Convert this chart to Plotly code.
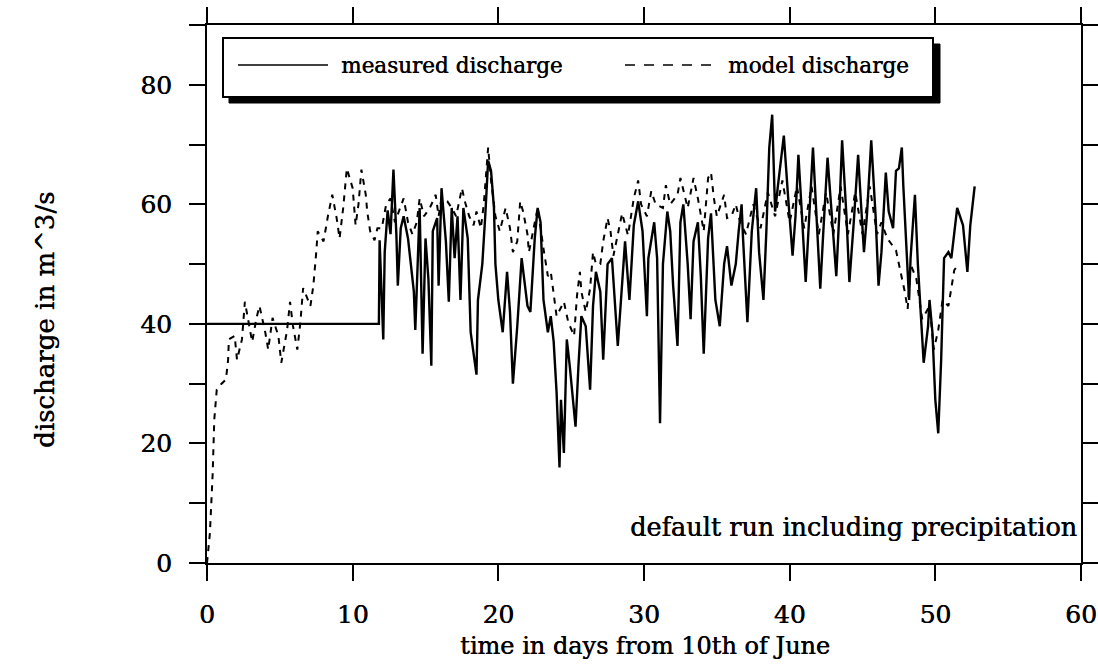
import plotly.graph_objects as go

# ---------------- data ----------------
measured_t = [0, 11.8, 11.85, 12.1, 12.2, 12.4, 12.6, 12.8, 13.0, 13.1, 13.3, 13.5, 13.8, 14.0, 14.2,
              14.3, 14.5, 14.6, 14.8, 15.0, 15.2, 15.4, 15.5, 15.8, 15.9, 16.1, 16.4, 16.6, 16.8, 17.0,
              17.2, 17.4, 17.6, 17.9, 18.1, 18.3, 18.5, 18.6, 18.9, 19.1, 19.3, 19.5, 19.7, 19.8, 20.0,
              20.3, 20.6, 20.8, 21.0, 21.3, 21.6, 22.0, 22.2, 22.5, 22.7, 22.9, 23.1, 23.4, 23.6, 23.8,
              24.0, 24.2, 24.3, 24.5, 24.7, 24.9, 25.3, 25.5, 25.7, 26.0, 26.3, 26.5, 26.7, 27.0, 27.2,
              27.5, 27.8, 28.2, 28.5, 28.7, 29.0, 29.3, 29.6, 29.9, 30.2, 30.3, 30.7, 30.9, 31.1, 31.3,
              31.6, 31.8, 32.0, 32.3, 32.5, 32.7, 33.0, 33.2, 33.4, 33.7, 33.9, 34.1, 34.4, 34.6, 34.9,
              35.2, 35.5, 35.7, 36.0, 36.3, 36.5, 36.7, 36.8, 37.1, 37.4, 37.7, 37.9, 38.2, 38.4, 38.6,
              38.8, 39.0, 39.2, 39.6, 39.9, 40.2, 40.4, 40.6, 40.8, 41.1, 41.3, 41.6, 41.8, 42.1, 42.3,
              42.6, 42.9, 43.2, 43.4, 43.6, 43.9, 44.1, 44.4, 44.7, 44.9, 45.1, 45.3, 45.6, 45.9, 46.1,
              46.3, 46.6, 46.8, 47.1, 47.3, 47.5, 47.7, 47.8, 48.1, 48.2, 48.3, 48.6, 48.8, 49.0, 49.2,
              49.5, 49.6, 49.8, 50.0, 50.2, 50.4, 50.6, 50.9, 51.1, 51.3, 51.5, 51.9, 52.2, 52.4, 52.7]
measured_q = [40, 40, 54, 37.4, 52, 59, 55, 65.8, 55, 46.4, 56, 58, 54.3, 50, 45.4,
              39, 54.3, 59.4, 35, 54.3, 47.5, 33, 55.5, 57.7, 46.4, 62.7, 53.8, 43.7, 59.4, 51,
              58, 44, 59.4, 54.3, 38.6, 35, 31.5, 44, 50, 58, 67.3, 65.6, 59.4, 50, 44,
              38.6, 48.7, 42, 30, 39.6, 51, 43, 42, 54.3, 59.4, 57, 44, 38.6, 41.3, 37,
              28.5, 16, 27.3, 18.4, 37.4, 33, 22.8, 33, 41.3, 39.6, 29, 43, 48.7, 45.4, 34,
              50, 51, 36.3, 47, 53.8, 44, 56.5, 60.5, 55.5, 41.3, 51, 57, 51, 23.4, 50,
              58.8, 55.5, 46.4, 36.3, 57, 60, 50, 40.8, 53.8, 57, 48, 35, 54.3, 58.5, 44,
              39.6, 50, 53, 46.4, 50, 55.5, 60, 54.3, 40.3, 55.5, 62.7, 52, 44, 55.5, 69.5,
              75, 58.8, 63.2, 71.5, 61, 51.4, 58, 68.3, 60, 47, 56, 69.5, 60, 45.9, 55,
              67.8, 58, 48, 58, 70.7, 58, 47, 57, 68.3, 60, 52, 58, 70.7, 58, 46.4,
              52, 65.3, 58.8, 56, 65.6, 66, 69.5, 63.2, 48.7, 44, 51, 61.6, 50, 41.3, 33.5,
              39.6, 44, 38.6, 27.3, 21.7, 34, 51, 52, 51, 55.5, 59.4, 56.5, 48.7, 56.5, 63]

model_t = [0, 0.07, 0.2, 0.39, 0.5, 0.67, 1.0, 1.3, 1.45, 1.5, 1.9, 2.06, 2.4, 2.6, 2.8, 3.1, 3.4,
           3.6, 4.0, 4.2, 4.5, 4.9, 5.1, 5.5, 5.7, 5.9, 6.2, 6.4, 6.6, 7.1, 7.3, 7.4, 7.5, 7.6, 8.0,
           8.3, 8.6, 8.9, 9.1, 9.35, 9.6, 10.0, 10.2, 10.4, 10.6, 10.9, 11.0, 11.2, 11.5, 11.7, 12.0,
           12.3, 12.6, 12.9, 13.2, 13.5, 13.8, 14.1, 14.4, 14.6, 14.9, 15.3, 15.7, 15.9, 16.1, 16.5,
           16.8, 17.1, 17.5, 17.7, 18.0, 18.3, 18.5, 18.8, 19.0, 19.3, 19.5, 19.8, 20.1, 20.5, 20.8,
           21.0, 21.3, 21.5, 21.7, 22.0, 22.1, 22.4, 22.7, 23.1, 23.4, 23.6, 23.8, 24.0, 24.5, 24.8,
           25.2, 25.4, 25.6, 25.7, 26.0, 26.3, 26.5, 26.7, 27.0, 27.2, 27.5, 27.7, 27.9, 28.2, 28.5,
           28.9, 29.3, 29.6, 29.8, 30.2, 30.5, 30.8, 31.3, 31.5, 31.8, 32.3, 32.5, 33.0, 33.4, 33.7,
           34.1, 34.4, 34.6, 34.8, 35.0, 35.5, 35.7, 36.0, 36.3, 36.6, 37.0, 37.5, 38.0, 38.5, 39.0,
           39.5, 40.0, 40.5, 41.0, 41.5, 42.0, 42.5, 43.0, 43.5, 44.0, 44.5, 45.0, 45.5, 46.0, 46.3,
           46.7, 47.3, 47.6, 47.9, 48.1, 48.3, 48.7, 48.9, 49.1, 49.6, 49.9, 50.2, 50.5, 50.9, 51.1,
           51.3, 51.6]
model_q = [0, 1.5, 5, 15, 24, 29, 30, 30.7, 34, 37.4, 38, 34, 37.4, 43.7, 41, 37, 41,
           43, 38.6, 35.7, 41, 38, 33.5, 39, 43.7, 39.7, 35.7, 40, 46, 43, 46.4, 48.7, 52, 55.5, 53.8,
           58, 61.6, 57.7, 54.3, 59.4, 66, 62.7, 56.5, 60, 65.8, 61.6, 58.8, 55.5, 54, 56, 56,
           60, 61, 57, 59, 61, 57, 55, 57, 61, 58, 59.4, 61.6, 58, 61, 60.5,
           59.4, 58, 62.7, 60.5, 58, 56.5, 58.8, 56, 60, 69.5, 64, 58, 55.5, 59.4, 56,
           52, 53.8, 60.5, 58.8, 55, 52, 56, 59.4, 52.6, 48, 48.7, 44.7, 41.3, 43.7, 40.3,
           38, 44.7, 48.7, 45.4, 42, 45.9, 52, 50, 50, 53.8, 57.7, 55.5, 51.4, 54.8, 58.5,
           54.8, 61, 64, 60, 58, 62.2, 60, 59.4, 63.2, 60, 61.6, 64.4, 59.4, 64.4, 61,
           55.5, 64.4, 65.3, 61, 58, 61.6, 57.7, 58, 60, 57, 55, 60, 56, 62, 58,
           64, 57, 63, 56, 63, 55, 62, 55, 63, 55, 62, 55, 63, 55, 57,
           54.3, 52.3, 49, 45.4, 42.5, 50, 47.5, 44, 40.8, 43, 35.7, 39, 44, 43, 45.9,
           49, 50]

x_ticks = [0, 10, 20, 30, 40, 50, 60]
y_ticks = [0, 10, 20, 30, 40, 50, 60, 70, 80, 90]
y_tick_labels = ["0", "", "20", "", "40", "", "60", "", "80", ""]

series_names = ["measured discharge", "model discharge"]
x_title = "time in days from 10th of June"
y_title = "discharge in m^3/s"
note_text = "default run including precipitation"

# ---------------- layout helpers ----------------
W, H = 1098, 666
L, R, T, B = 207, 17, 25, 103
PW, PH = W - L - R, H - T - B


def px(x):
    return (x - L) / PW


def py(y):
    return (H - B - y) / PH


FONT = "DejaVu Serif"
SHADOW = "0.5px 0px 0px black"

fig = go.Figure()
fig.add_trace(go.Scatter(x=measured_t, y=measured_q, mode="lines", name=series_names[0],
                         line=dict(color="black", width=2.4), showlegend=False))
fig.add_trace(go.Scatter(x=model_t, y=model_q, mode="lines", name=series_names[1],
                         line=dict(color="black", width=2, dash="6px,6px"), showlegend=False))

axis_common = dict(showline=True, linecolor="black", linewidth=2, mirror="allticks",
                   ticks="outside", ticklen=16, tickwidth=2, tickcolor="black",
                   showgrid=False, zeroline=False, automargin=False,
                   tickfont=dict(family=FONT, size=25, color="black", shadow=SHADOW))

fig.update_xaxes(range=[0, 60], tickvals=x_ticks, ticktext=[str(v) for v in x_ticks],
                 ticklabelstandoff=12, **axis_common)
fig.update_yaxes(range=[0, 90], tickvals=y_ticks, ticktext=y_tick_labels,
                 ticklabelstandoff=12, **axis_common)

shapes = [
    # legend box shadow and box
    dict(type="rect", xref="paper", yref="paper", x0=px(229), x1=px(940), y0=py(103), y1=py(44),
         fillcolor="black", line=dict(color="black", width=1), layer="above"),
    dict(type="rect", xref="paper", yref="paper", x0=px(223), x1=px(933), y0=py(97), y1=py(38),
         fillcolor="white", line=dict(color="black", width=2), layer="above"),
    # legend samples
    dict(type="line", xref="paper", yref="paper", x0=px(238), x1=px(328), y0=py(65), y1=py(65),
         line=dict(color="black", width=1.6), layer="above"),
    dict(type="line", xref="paper", yref="paper", x0=px(625), x1=px(716), y0=py(65), y1=py(65),
         line=dict(color="black", width=1.6, dash="10px,9px"), layer="above"),
]

annotations = [
    dict(text=series_names[0], xref="paper", yref="paper", x=px(339), y=py(65),
         xanchor="left", yanchor="middle", showarrow=False,
         font=dict(family=FONT, size=21.5, color="black", shadow=SHADOW)),
    dict(text=series_names[1], xref="paper", yref="paper", x=px(726), y=py(65),
         xanchor="left", yanchor="middle", showarrow=False,
         font=dict(family=FONT, size=21.5, color="black", shadow=SHADOW)),
    dict(text=note_text, xref="paper", yref="paper", x=px(1079), y=py(527),
         xanchor="right", yanchor="middle", showarrow=False,
         font=dict(family=FONT, size=25.5, color="black", shadow=SHADOW)),
    dict(text=x_title, xref="paper", yref="paper", x=px(645), y=py(646),
         xanchor="center", yanchor="middle", showarrow=False,
         font=dict(family=FONT, size=24, color="black", shadow=SHADOW)),
    dict(text=y_title, xref="paper", yref="paper", x=px(45), y=py(320),
         xanchor="center", yanchor="middle", showarrow=False, textangle=-90,
         font=dict(family=FONT, size=26, color="black", shadow=SHADOW)),
]

fig.update_layout(width=W, height=H, margin=dict(l=L, r=R, t=T, b=B),
                  paper_bgcolor="white", plot_bgcolor="white",
                  shapes=shapes, annotations=annotations, showlegend=False)

fig.write_html("out.html")
